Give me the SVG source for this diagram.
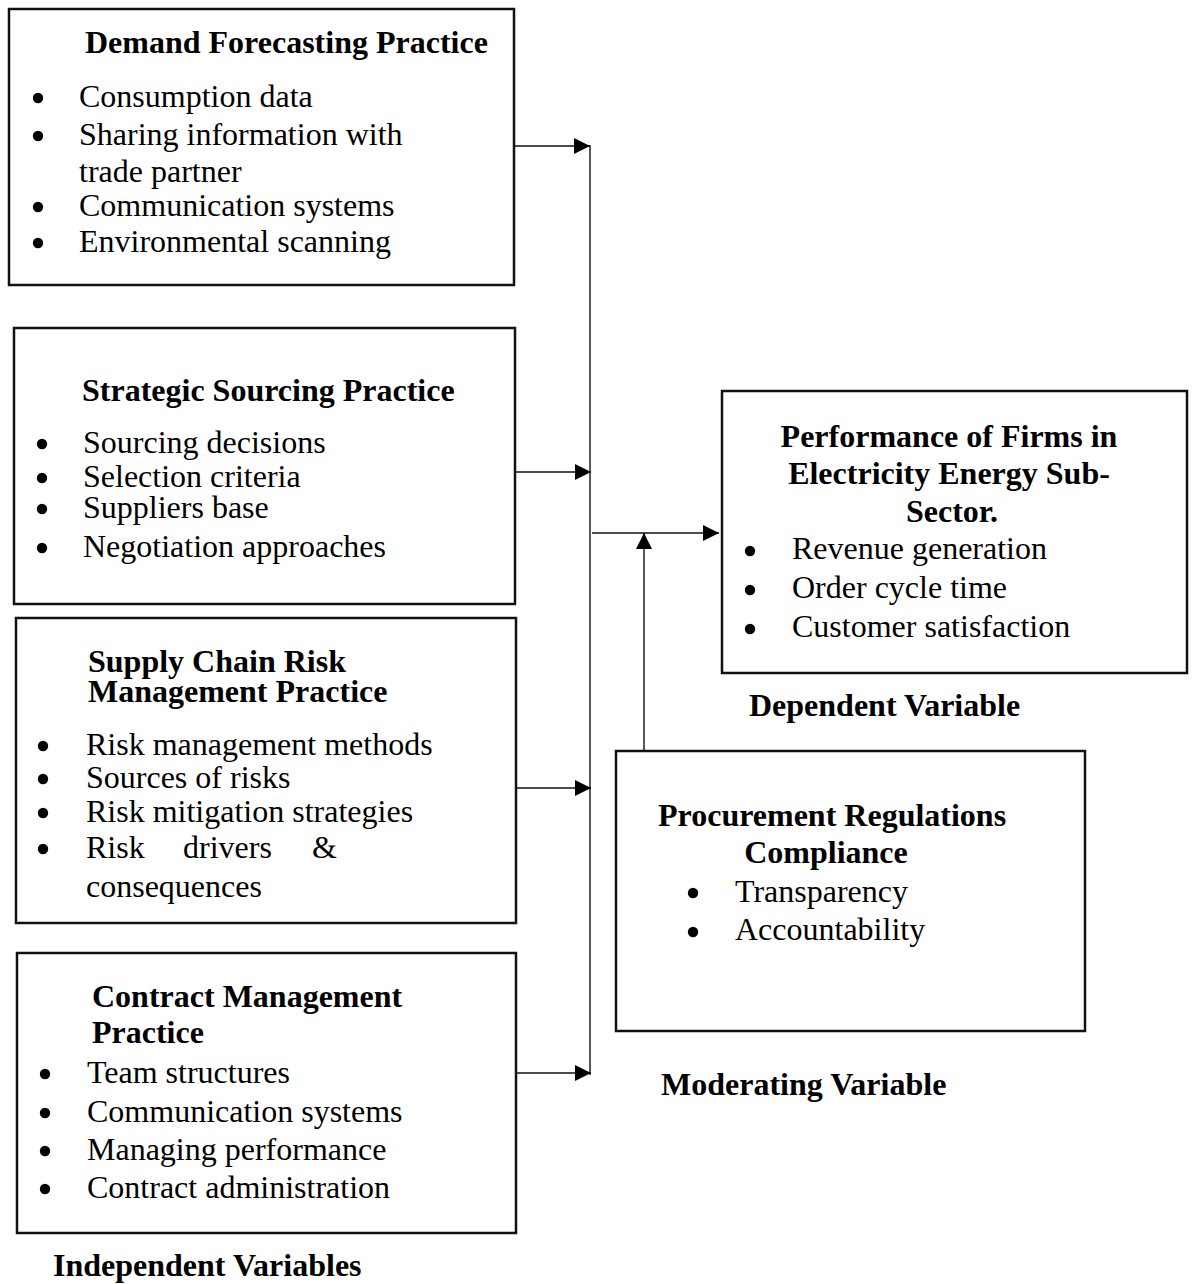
<svg xmlns="http://www.w3.org/2000/svg" width="1194" height="1284" viewBox="0 0 1194 1284">
<defs>
<style>
.box{fill:#fff;stroke:#111;stroke-width:2.5}
.t{font-family:"Liberation Serif","Times New Roman",serif;font-size:32px;fill:#000}
.b{font-weight:bold}
.c{text-anchor:middle}
.dot{fill:#000}
.ln{stroke:#111;stroke-width:1.4;fill:none}
</style>
<marker id="ah" viewBox="0 0 16 16" refX="16" refY="8" markerWidth="16" markerHeight="16" markerUnits="userSpaceOnUse" orient="auto">
<path d="M0,0 L16,8 L0,16 Z" fill="#000"/>
</marker>
</defs>
<rect width="1194" height="1284" fill="#fff"/>

<g id="connectors">
<line class="ln" x1="590" y1="145" x2="590" y2="1075"/>
<line class="ln" x1="515" y1="146" x2="590" y2="146" marker-end="url(#ah)"/>
<line class="ln" x1="516" y1="472" x2="591" y2="472" marker-end="url(#ah)"/>
<line class="ln" x1="517" y1="788" x2="591" y2="788" marker-end="url(#ah)"/>
<line class="ln" x1="517" y1="1073" x2="591" y2="1073" marker-end="url(#ah)"/>
<line class="ln" x1="592" y1="533" x2="719" y2="533" marker-end="url(#ah)"/>
<line class="ln" x1="644" y1="750" x2="644" y2="533" marker-end="url(#ah)"/>
</g>

<g id="demand-forecasting">
<rect class="box" x="9" y="9" width="505" height="276"/>
<text class="t b" x="85" y="53">Demand Forecasting Practice</text>
<circle class="dot" cx="38" cy="98" r="5.2"/>
<circle class="dot" cx="38" cy="136" r="5.2"/>
<circle class="dot" cx="38" cy="207" r="5.2"/>
<circle class="dot" cx="38" cy="243" r="5.2"/>
<text class="t" x="79" y="107">Consumption data</text>
<text class="t" x="79" y="145">Sharing information with</text>
<text class="t" x="79" y="182">trade partner</text>
<text class="t" x="79" y="216">Communication systems</text>
<text class="t" x="79" y="252">Environmental scanning</text>
</g>

<g id="strategic-sourcing">
<rect class="box" x="14" y="328" width="501" height="276"/>
<text class="t b" x="82" y="401">Strategic Sourcing Practice</text>
<circle class="dot" cx="42" cy="444" r="5.2"/>
<circle class="dot" cx="42" cy="478" r="5.2"/>
<circle class="dot" cx="42" cy="509" r="5.2"/>
<circle class="dot" cx="42" cy="548" r="5.2"/>
<text class="t" x="83" y="453">Sourcing decisions</text>
<text class="t" x="83" y="487">Selection criteria</text>
<text class="t" x="83" y="518">Suppliers base</text>
<text class="t" x="83" y="557">Negotiation approaches</text>
</g>

<g id="risk-management">
<rect class="box" x="16" y="618" width="500" height="305"/>
<text class="t b" x="88" y="672">Supply Chain Risk</text>
<text class="t b" x="88" y="702">Management Practice</text>
<circle class="dot" cx="43" cy="746" r="5.2"/>
<circle class="dot" cx="43" cy="779" r="5.2"/>
<circle class="dot" cx="43" cy="813" r="5.2"/>
<circle class="dot" cx="43" cy="849" r="5.2"/>
<text class="t" x="86" y="755">Risk management methods</text>
<text class="t" x="86" y="788">Sources of risks</text>
<text class="t" x="86" y="822">Risk mitigation strategies</text>
<text class="t" y="858"><tspan x="86">Risk</tspan><tspan x="183">drivers</tspan><tspan x="312">&amp;</tspan></text>
<text class="t" x="86" y="897">consequences</text>
</g>

<g id="contract-management">
<rect class="box" x="17" y="953" width="499" height="280"/>
<text class="t b" x="92" y="1007">Contract Management</text>
<text class="t b" x="92" y="1043">Practice</text>
<circle class="dot" cx="45" cy="1074" r="5.2"/>
<circle class="dot" cx="45" cy="1113" r="5.2"/>
<circle class="dot" cx="45" cy="1151" r="5.2"/>
<circle class="dot" cx="45" cy="1189" r="5.2"/>
<text class="t" x="87" y="1083">Team structures</text>
<text class="t" x="87" y="1122">Communication systems</text>
<text class="t" x="87" y="1160">Managing performance</text>
<text class="t" x="87" y="1198">Contract administration</text>
</g>

<g id="independent-label">
<text class="t b" x="53" y="1276">Independent Variables</text>
</g>

<g id="performance">
<rect class="box" x="722" y="391" width="465" height="282"/>
<text class="t b c" x="949" y="447">Performance of Firms in</text>
<text class="t b c" x="949" y="484">Electricity Energy Sub-</text>
<text class="t b c" x="952" y="522">Sector.</text>
<circle class="dot" cx="750" cy="551" r="5.2"/>
<circle class="dot" cx="750" cy="590" r="5.2"/>
<circle class="dot" cx="750" cy="629" r="5.2"/>
<text class="t" x="792" y="559">Revenue generation</text>
<text class="t" x="792" y="598">Order cycle time</text>
<text class="t" x="792" y="637">Customer satisfaction</text>
</g>

<g id="dependent-label">
<text class="t b" x="749" y="716">Dependent Variable</text>
</g>

<g id="procurement-compliance">
<rect class="box" x="616" y="751" width="469" height="280"/>
<text class="t b" x="658" y="826">Procurement Regulations</text>
<text class="t b c" x="826" y="863">Compliance</text>
<circle class="dot" cx="693" cy="893" r="5.2"/>
<circle class="dot" cx="693" cy="932" r="5.2"/>
<text class="t" x="735" y="902">Transparency</text>
<text class="t" x="735" y="940">Accountability</text>
</g>

<g id="moderating-label">
<text class="t b" x="661" y="1095">Moderating Variable</text>
</g>
</svg>
